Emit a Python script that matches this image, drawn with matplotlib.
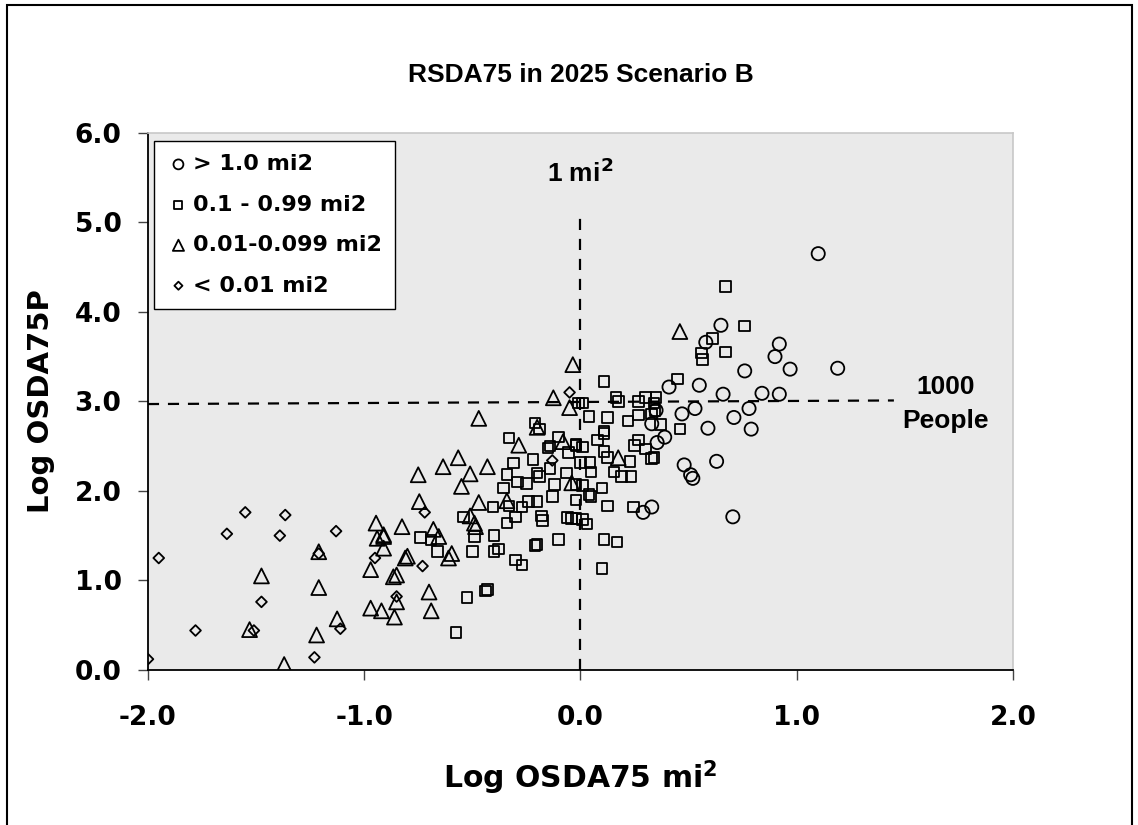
import matplotlib
matplotlib.use("Agg")
import matplotlib.pyplot as plt
from matplotlib.patches import Rectangle
import numpy as np

plt.rcParams['font.family'] = ['DejaVu Sans']
plt.rcParams['font.weight'] = 'bold'
plt.rcParams['mathtext.fontset'] = 'dejavusans'

# > 1.0 mi2
circ_x = [1.10, 0.65, 0.58, 0.92, 0.90, 0.97, 1.19, 0.76, 0.41, 0.55, 0.66, 0.84, 0.92, 0.53, 0.78,
          0.47, 0.35, 0.71, 0.59, 0.79, 0.33, 0.39, 0.355, 0.48, 0.51, 0.52, 0.63, 0.33, 0.29, 0.705]
circ_y = [4.65, 3.85, 3.66, 3.64, 3.50, 3.36, 3.37, 3.34, 3.16, 3.18, 3.08, 3.09, 3.08, 2.92, 2.92,
          2.86, 2.90, 2.82, 2.70, 2.69, 2.75, 2.60, 2.54, 2.29, 2.18, 2.14, 2.33, 1.82, 1.76, 1.71]

# 0.1 - 0.99 mi2
sq_x = [0.67, 0.76, 0.61, 0.56, 0.565, 0.67, 0.45, 0.11, 0.01, 0.165, 0.175, 0.27, 0.30, 0.35, 0.34,
        0.345, 0.33, 0.04, 0.125, 0.27, 0.22, 0.37, 0.46, 0.11, 0.11, 0.27, 0.08,
        -0.02, 0.01, 0.11, 0.25, 0.30, 0.33, 0.34, 0.125, 0.045, 0.05, 0.00, 0.155, 0.19, 0.23, 0.235,
        0.10, 0.01, 0.04, 0.05, -0.02, 0.125, 0.245, -0.04, -0.02, 0.01, 0.03, 0.11, 0.17, 0.10,
        -0.21, -0.19, -0.33, -0.14, -0.10, -0.02, -0.01,
        -0.31, -0.22, -0.34, -0.29, -0.25, -0.20, -0.19, -0.15, -0.14, -0.12, -0.065, -0.055, -0.02,
        -0.355, -0.405, -0.33, -0.27, -0.24, -0.20, -0.13, -0.18, -0.175, -0.06, -0.54, -0.34, -0.30,
        -0.40, -0.49, -0.74, -0.69, -0.66, -0.50, -0.40, -0.38, -0.21, -0.20, -0.10, -0.30, -0.27,
        -0.44, -0.43, -0.525, -0.575]
sq_y = [4.28, 3.84, 3.70, 3.54, 3.47, 3.55, 3.25, 3.22, 2.98, 3.04, 3.00, 3.00, 3.04, 3.04, 2.98,
        2.90, 2.86, 2.83, 2.82, 2.85, 2.78, 2.74, 2.69, 2.67, 2.64, 2.57, 2.57,
        2.51, 2.49, 2.44, 2.51, 2.47, 2.36, 2.37, 2.37, 2.32, 2.21, 2.32, 2.21, 2.16, 2.33, 2.16,
        2.03, 2.06, 1.96, 1.94, 1.90, 1.83, 1.82, 1.69, 1.69, 1.68, 1.63, 1.46, 1.43, 1.13,
        2.76, 2.69, 2.59, 2.50, 2.60, 2.52, 2.98,
        2.31, 2.35, 2.18, 2.10, 2.08, 2.20, 2.16, 2.48, 2.25, 2.07, 2.20, 2.43, 2.07,
        2.03, 1.82, 1.83, 1.82, 1.88, 1.88, 1.94, 1.72, 1.67, 1.70, 1.71, 1.64, 1.71,
        1.50, 1.49, 1.48, 1.45, 1.32, 1.32, 1.32, 1.35, 1.39, 1.40, 1.46, 1.23, 1.17,
        0.88, 0.90, 0.81, 0.42]

# 0.01-0.099 mi2
tri_x = [-0.285, -0.75, -0.635, -0.565, -0.51, -0.43, -0.55, -0.745, -0.47, -0.34, -0.51, -0.49,
         -0.485, -0.825, -0.68, -0.655, -0.91, -0.80, -0.81, -0.595, -0.61, -0.85, -0.865, -0.70,
         -0.85, -0.69, -0.86, -1.475, -1.53, -1.37, -1.21, -1.21, -1.22, -1.125, -0.945, -0.94,
         -0.91, -0.91, -0.97, -0.97, -0.92, -0.035, -0.125, -0.05, -0.47, -0.20, -0.08, 0.46, 0.175,
         -0.04]
tri_y = [2.51, 2.18, 2.27, 2.37, 2.19, 2.27, 2.05, 1.88, 1.87, 1.89, 1.72, 1.64,
         1.60, 1.60, 1.57, 1.49, 1.49, 1.27, 1.25, 1.30, 1.25, 1.06, 1.04, 0.87,
         0.76, 0.66, 0.59, 1.05, 0.45, 0.06, 1.32, 0.92, 0.39, 0.57, 1.64, 1.47,
         1.51, 1.36, 1.12, 0.69, 0.66, 3.41, 3.04, 2.93, 2.81, 2.71, 2.55, 3.78, 2.37,
         2.09]

# < 0.01 mi2
dia_x = [-1.95, -2.0, -1.78, -1.635, -1.55, -1.51, -1.475, -1.39, -1.365, -1.23, -1.21, -1.13,
         -1.11, -0.95, -0.85, -0.72, -0.73, -0.13, -0.05]
dia_y = [1.25, 0.12, 0.44, 1.52, 1.76, 0.44, 0.76, 1.50, 1.73, 0.14, 1.30, 1.55,
         0.46, 1.25, 0.82, 1.76, 1.16, 2.34, 3.10]

xticks = [-2.0, -1.0, 0.0, 1.0, 2.0]
yticks = [0.0, 1.0, 2.0, 3.0, 4.0, 5.0, 6.0]

fig = plt.figure(figsize=(11.38, 8.25), dpi=100)
ax = fig.add_axes([0.130, 0.188, 0.760, 0.651])
ax.set_facecolor('#EAEAEA')

kw = dict(facecolors='none', edgecolors='black', linewidths=1.3, zorder=3)
ax.scatter(circ_x, circ_y, marker='o', s=90, label='> 1.0 mi2', **kw)
ax.scatter(sq_x, sq_y, marker='s', s=58, label='0.1 - 0.99 mi2', **kw)
ax.scatter(tri_x, tri_y, marker='^', s=115, label='0.01-0.099 mi2', **kw)
ax.scatter(dia_x, dia_y, marker='D', s=30, label='< 0.01 mi2', **kw)

# reference lines
ax.plot([0, 0], [0, 5.1], color='black', lw=1.6, ls=(0, (5, 4)), zorder=2)
ax.plot([-2, 1.45], [2.97, 3.01], color='black', lw=1.6, ls=(0, (5, 4)), zorder=2)
ax.text(0, 5.55, '1 mi$^\\mathbf{2}$', ha='center', va='center', fontsize=19, fontweight='bold',
        family='Liberation Sans')
ax.text(1.69, 2.97, '1000\nPeople', ha='center', va='center', fontsize=19, fontweight='bold',
        linespacing=1.55, family='Liberation Sans')

ax.set_xlim(-2, 2)
ax.set_ylim(0, 6)
ax.set_xticks(xticks)
ax.set_yticks(yticks)
ax.set_xticklabels([f'{v:.1f}' for v in xticks])
ax.set_yticklabels([f'{v:.1f}' for v in yticks])
ax.tick_params(axis='both', direction='out', length=7, width=1, color='#444444',
               labelsize=19)
ax.tick_params(axis='x', pad=18)
ax.tick_params(axis='y', pad=12)
for t in ax.get_xticklabels() + ax.get_yticklabels():
    t.set_fontweight('bold')

for s in ['left', 'bottom']:
    ax.spines[s].set_color('black')
    ax.spines[s].set_linewidth(1.3)
for s in ['top', 'right']:
    ax.spines[s].set_color('#C8C8C8')
    ax.spines[s].set_linewidth(1.2)

ax.set_xlabel('Log OSDA75 mi$^\\mathbf{2}$', fontsize=21.5, fontweight='bold', labelpad=20)
ax.set_ylabel('Log OSDA75P', fontsize=21, fontweight='bold', labelpad=14)
fig.text(0.51, 0.909, 'RSDA75 in 2025 Scenario B', ha='center', va='center',
         fontsize=19, fontweight='bold', family='Liberation Sans')

leg = ax.legend(loc='upper left', bbox_to_anchor=(0.007, 0.985), frameon=True, fancybox=False,
                edgecolor='black', facecolor='white', framealpha=1, markerscale=0.75,
                prop={'size': 16, 'weight': 'bold'}, handletextpad=0.15, borderpad=0.6,
                labelspacing=0.92, handlelength=1.0, borderaxespad=0)
leg.get_frame().set_linewidth(1.0)

# outer chart border
fig.patches.append(Rectangle((0.006, -0.01), 0.989, 1.004, transform=fig.transFigure,
                             fill=False, edgecolor='black', linewidth=1.5))

fig.savefig('out.png', dpi=100)
